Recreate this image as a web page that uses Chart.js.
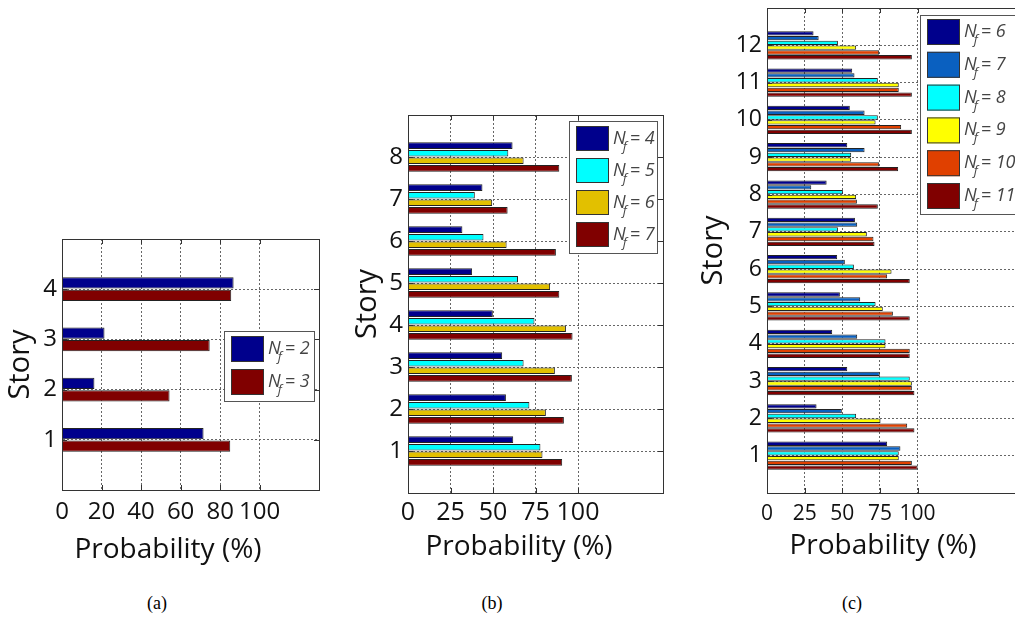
<!DOCTYPE html>
<html>
<head>
<meta charset="utf-8">
<script src="https://cdn.jsdelivr.net/npm/chart.js@4.4.1/dist/chart.umd.min.js"></script>
<style>
  html, body { margin: 0; padding: 0; background: #fff; }
  #wrap { position: relative; width: 1015px; height: 617px; overflow: hidden; background: #fff; }
  .panel { position: absolute; }
  .xtitle { position: absolute; width: 300px; text-align: center; font: 28px "Open Sans", sans-serif; line-height: 34px; color: #111; }
  .cap { position: absolute; width: 60px; text-align: center; font: 18px "Liberation Serif", serif; line-height: 22px; color: #000; }
</style>
</head>
<body>
<div id="wrap">
  <canvas id="chartA" class="panel" width="340" height="380" style="left:0px;top:200px"></canvas>
  <canvas id="chartB" class="panel" width="330" height="480" style="left:345px;top:100px"></canvas>
  <canvas id="chartC" class="panel" width="340" height="580" style="left:695px;top:0px"></canvas>
  <div class="xtitle" style="left:18px;top:530px">Probability (%)</div>
  <div class="xtitle" style="left:369px;top:527px">Probability (%)</div>
  <div class="xtitle" style="left:733px;top:526px">Probability (%)</div>
  <div class="cap" style="left:127px;top:592px">(a)</div>
  <div class="cap" style="left:462px;top:592px">(b)</div>
  <div class="cap" style="left:822px;top:592px">(c)</div>
</div>
<script>
// --- dados (probabilidade em %, andares de baixo para cima) ---
const storiesA = [1, 2, 3, 4];
const nf2 = [71.6, 16.4, 21.5, 86.8];
const nf3 = [85.1, 54.4, 74.7, 85.6];

const storiesB = [1, 2, 3, 4, 5, 6, 7, 8];
const nf4 = [61.9, 57.6, 55.4, 49.9, 37.7, 32.0, 43.8, 61.5];
const nf5 = [77.9, 71.4, 68.0, 74.4, 64.7, 44.4, 39.3, 59.0];
const nf6 = [79.1, 81.1, 86.4, 92.9, 83.6, 58.0, 49.5, 68.0];
const nf7 = [90.7, 91.7, 96.4, 96.8, 89.0, 87.0, 58.6, 89.0];

const storiesC = [1, 2, 3, 4, 5, 6, 7, 8, 9, 10, 11, 12];
const c6  = [79.8, 32.9, 53.3, 43.3, 48.4, 46.6, 58.4, 39.6, 53.3, 55.0, 56.6, 30.9];
const c7  = [88.6, 49.7, 74.9, 59.9, 61.9, 51.7, 59.9, 29.4, 64.8, 64.8, 58.1, 34.3];
const c8  = [87.5, 59.2, 94.8, 78.7, 72.1, 57.7, 47.1, 50.4, 55.9, 73.6, 73.6, 47.1];
const c9  = [87.5, 75.4, 96.2, 78.7, 76.9, 82.7, 66.3, 59.2, 55.9, 72.1, 87.5, 59.2];
const c10 = [96.2, 93.1, 96.2, 94.8, 83.6, 79.8, 70.7, 59.7, 74.5, 89.1, 87.5, 74.5];
const c11 = [100, 97.9, 97.9, 94.8, 94.8, 94.8, 71.4, 73.6, 87.1, 96.2, 96.2, 96.2];

const xTicksA = [0, 20, 40, 60, 80, 100];
const xTicksB = [0, 25, 50, 75, 100];
const xTicksC = [0, 25, 50, 75, 100];

// moldura do eixo + tracinhos internos (estilo matlab)
const boxPlugin = {
  id: 'box',
  afterDraw(chart) {
    const {ctx, chartArea: a, scales} = chart;
    ctx.save();
    ctx.strokeStyle = '#333';
    ctx.lineWidth = 1;
    ctx.strokeRect(Math.round(a.left) + 0.5, Math.round(a.top) + 0.5, Math.round(a.right - a.left), Math.round(a.bottom - a.top));
    ctx.beginPath();
    scales.x.ticks.forEach(t => {
      const px = Math.round(scales.x.getPixelForValue(t.value)) + 0.5;
      ctx.moveTo(px, a.top); ctx.lineTo(px, a.top + 5);
      ctx.moveTo(px, a.bottom); ctx.lineTo(px, a.bottom - 5);
    });
    scales.y.ticks.forEach(t => {
      const py = Math.round(scales.y.getPixelForValue(t.value)) + 0.5;
      ctx.moveTo(a.left, py); ctx.lineTo(a.left + 5, py);
      ctx.moveTo(a.right, py); ctx.lineTo(a.right - 5, py);
    });
    ctx.stroke();
    ctx.restore();
  }
};

// legenda com N_f (subscrito)
const nfLegend = {
  id: 'nfLegend',
  afterDraw(chart, args, o) {
    const ctx = chart.ctx;
    ctx.save();
    ctx.fillStyle = '#fff';
    ctx.fillRect(o.x, o.y, o.w, o.h);
    ctx.strokeStyle = '#555';
    ctx.lineWidth = 1;
    ctx.strokeRect(o.x + 0.5, o.y + 0.5, o.w, o.h);
    chart.data.datasets.forEach((ds, i) => {
      const sx = o.x + o.dx, sy = o.y + o.dy + i * o.pitch;
      ctx.fillStyle = ds.backgroundColor;
      ctx.fillRect(sx, sy, o.sw, o.sh);
      ctx.strokeStyle = '#333';
      ctx.strokeRect(sx + 0.5, sy + 0.5, o.sw - 1, o.sh - 1);
      const tx = sx + o.sw + 4;
      const ty = sy + o.sh / 2 + 5;
      ctx.fillStyle = '#444';
      ctx.textBaseline = 'alphabetic';
      ctx.font = 'italic 18px "Open Sans"';
      ctx.fillText('N', tx, ty);
      const nw = ctx.measureText('N').width;
      ctx.font = 'italic 13px "Open Sans"';
      ctx.fillText('f', tx + nw - 3, ty + 7);
      ctx.font = 'italic 18px "Open Sans"';
      ctx.fillText('= ' + ds.label, tx + nw + 4, ty);
    });
    ctx.restore();
  }
};

function makeChart(id, stories, series, labels, colors, xTicks, cfg) {
  const datasets = series.map((vals, i) => ({
    label: labels[i],
    data: stories.map((s, j) => ({x: vals[j], y: s})),
    backgroundColor: colors[i],
    borderColor: '#222',
    borderWidth: 1,
    categoryPercentage: cfg.catPct,
    barPercentage: cfg.barPct
  }));
  return new Chart(document.getElementById(id).getContext('2d'), {
    type: 'bar',
    data: { datasets: datasets },
    options: {
      responsive: false,
      animation: false,
      indexAxis: 'y',
      layout: { padding: { top: cfg.padTop, right: cfg.padRight, left: 0, bottom: 0 } },
      scales: {
        x: {
          type: 'linear', min: 0, max: cfg.xMax,
          afterBuildTicks: s => { s.ticks = xTicks.map(v => ({value: v})); },
          afterFit: s => { s.height = cfg.xH; s.paddingLeft = 0; s.paddingRight = 0; },
          grid: { color: '#666', lineWidth: 1, drawTicks: false },
          border: { display: true, color: '#333', width: 1, dash: [2, 2] },
          ticks: { font: { family: 'Open Sans', size: cfg.xFont }, color: '#111', padding: cfg.xPad, maxRotation: 0, autoSkip: false }
        },
        y: {
          type: 'linear', min: 0, max: stories.length + 1, offset: false,
          afterBuildTicks: s => { s.ticks = stories.map(v => ({value: v})); },
          afterFit: s => { s.width = cfg.yW; s.paddingTop = 0; s.paddingBottom = 0; },
          grid: { color: '#666', lineWidth: 1, drawTicks: false, offset: false },
          border: { display: true, color: '#333', width: 1, dash: [2, 2] },
          ticks: { font: { family: 'Open Sans', size: cfg.yFont }, color: '#111', padding: 5, autoSkip: false },
          title: { display: true, text: 'Story', color: '#111',
                   font: { family: 'Open Sans', size: 29, lineHeight: 1 },
                   padding: { top: cfg.titlePad, bottom: 0 } }
        }
      },
      plugins: {
        legend: { display: false },
        tooltip: { enabled: false },
        nfLegend: cfg.legend
      }
    },
    plugins: [boxPlugin, nfLegend]
  });
}

makeChart('chartA', storiesA, [nf2, nf3], ['2', '3'], ['#00008C', '#800000'], xTicksA, {
  xMax: 130, padTop: 39, padRight: 21, xH: 90, yW: 62, xFont: 24, yFont: 24, xPad: 8, titlePad: 6,
  catPct: 0.5, barPct: 0.9,
  legend: { x: 224, y: 131, w: 90, h: 70, dx: 7, dy: 5, sw: 33, sh: 26, pitch: 33 }
});

makeChart('chartB', storiesB, [nf4, nf5, nf6, nf7], ['4', '5', '6', '7'], ['#00008C', '#00FFFF', '#E2C000', '#800000'], xTicksB, {
  xMax: 150, padTop: 15, padRight: 12, xH: 87, yW: 63, xFont: 25, yFont: 24, xPad: 5, titlePad: 8,
  catPct: 0.72, barPct: 0.88,
  legend: { x: 224, y: 21, w: 88, h: 132, dx: 7, dy: 5, sw: 33, sh: 25, pitch: 32 }
});

makeChart('chartC', storiesC, [c6, c7, c8, c9, c10, c11], ['6', '7', '8', '9', '10', '11'],
  ['#00008C', '#0A60C0', '#00FFFF', '#FFFF00', '#E04000', '#800000'], xTicksC, {
  xMax: 170, padTop: 8, padRight: 12, xH: 87, yW: 72, xFont: 21, yFont: 23, xPad: 8, titlePad: 4,
  catPct: 0.77, barPct: 0.9,
  legend: { x: 225, y: 15, w: 96, h: 199, dx: 7, dy: 4, sw: 33, sh: 26, pitch: 32.8 }
});
</script>
</body>
</html>
